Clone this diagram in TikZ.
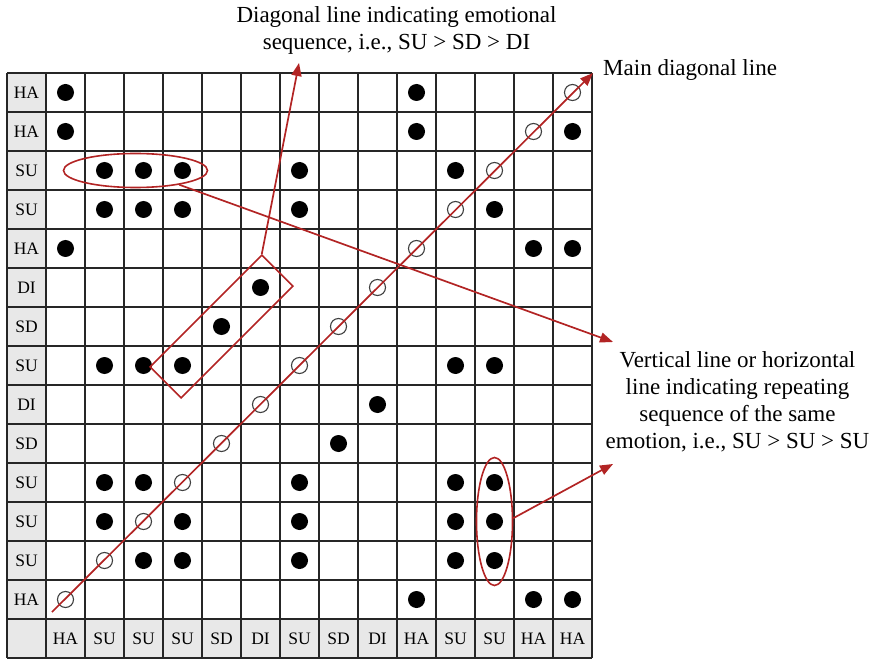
\documentclass[tikz,border=0pt]{standalone}
\usepackage{fontspec}
\setmainfont{Liberation Serif}
\usepackage{xcolor}
\usepackage{tikz}
\usetikzlibrary{arrows.meta, positioning, shapes.geometric}
\definecolor{annored}{RGB}{178,36,36}

\begin{document}
\begin{tikzpicture}[
    x=1pt, y=-1pt,
    lab/.style={rectangle, fill=black!9, minimum width=39pt, minimum height=39pt,
                inner sep=0pt, font=\fontsize{17.5}{17.5}\selectfont},
    gridline/.style={line width=1.4pt, black!85},
    hit/.style={circle, fill=black, minimum size=17pt, inner sep=0pt},
    self/.style={circle, draw=black!75, line width=1.1pt, minimum size=16pt, inner sep=0pt},
    ring/.style={ellipse, draw=annored, line width=1.6pt, inner sep=0pt},
    note/.style={align=center, inner sep=0pt, font=\fontsize{23}{27}\selectfont},
    arr/.style={-{Triangle[length=13pt, width=10pt]}, annored, line width=1.7pt}
]

\useasboundingbox (0,0) rectangle (875,660);

% label cells
\foreach \r/\lab in {1/HA,2/HA,3/SU,4/SU,5/HA,6/DI,7/SD,8/SU,9/DI,10/SD,11/SU,12/SU,13/SU,14/HA}
    \node[lab] (row\r) at (26.5, 73+39*\r-19.5) {\lab};
\foreach \c/\lab in {1/HA,2/SU,3/SU,4/SU,5/SD,6/DI,7/SU,8/SD,9/DI,10/HA,11/SU,12/SU,13/HA,14/HA}
    \node[lab] (col\c) at (7+39*\c+19.5, 638.5) {\lab};
\node[lab] (corner) at (26.5, 638.5) {};

% grid
\foreach \i in {0,...,15} {
    \draw[gridline] (7+39*\i, 73) -- (7+39*\i, 658);
    \draw[gridline] (7, 73+39*\i) -- (592, 73+39*\i);
}

% recurrence points: row / diagonal column / filled columns
\foreach \r/\s/\hits in {1/14/{1,10}, 2/13/{1,10,14}, 3/12/{2,3,4,7,11},
        4/11/{2,3,4,7,12}, 5/10/{1,13,14}, 6/9/{6}, 7/8/{5}, 8/7/{2,3,4,11,12},
        9/6/{9}, 10/5/{8}, 11/4/{2,3,7,11,12}, 12/3/{2,4,7,11,12},
        13/2/{3,4,7,11,12}, 14/1/{10,13,14}} {
    \node[self] (pt-\r-\s) at (7+39*\s+19.5, 73+39*\r-19.5) {};
    \foreach \c in \hits
        \node[hit] (pt-\r-\c) at (7+39*\c+19.5, 73+39*\r-19.5) {};
}

% annotations
\node[ring, minimum width=144pt, minimum height=34pt] (rowring) at ([xshift=-8pt]pt-3-3) {};
\node[ring, minimum width=36pt, minimum height=128pt] (colring) at (pt-12-12) {};
\node[rectangle, draw=annored, line width=1.6pt, minimum width=158pt, minimum height=44pt,
      inner sep=0pt, rotate=45] (diagbox) at (pt-7-5) {};

\node[note] (seqnote) at (396.5, 30)
    {Diagonal line indicating emotional\\sequence, i.e., SU > SD > DI};
\node[note, anchor=west] (mainnote) at (603, 70) {Main diagonal line};
\node[note] (repeatnote) at (737.5, 402)
    {Vertical line or horizontal\\line indicating repeating\\sequence of the same\\emotion, i.e., SU > SU > SU};

\coordinate (diagfoot) at (52, 612);
\coordinate (gridne) at (593, 73);
\coordinate (seqtip) at (299, 63);
\coordinate (rowtip) at (613, 342);
\coordinate (coltip) at (613, 464);

\draw[arr] (diagfoot) -- (gridne);
\draw[arr] (diagbox.north east) -- (seqtip);
\draw[arr] (rowring.-18) -- (rowtip);
\draw[arr] (colring.10) -- (coltip);

\end{tikzpicture}
\end{document}
